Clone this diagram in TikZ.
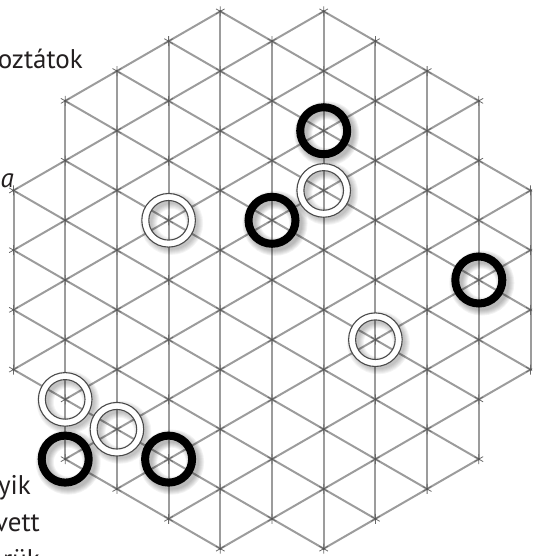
\documentclass[tikz,border=0pt]{standalone}
\usepackage{fontspec}
\setmainfont{PT Sans}
\definecolor{gridgray}{HTML}{9C9C9C}
\definecolor{dotgray}{HTML}{555555}
\definecolor{edgegray}{HTML}{4A4A4A}
\definecolor{textcol}{HTML}{231F20}
\begin{document}
\begin{tikzpicture}[x=1pt,y=-1pt,
  gridline/.style={draw=gridgray, line width=2pt},
  ptmark/.style={draw=dotgray!70!gridgray, line width=0.8pt},
  blackring/.style={draw=black, line width=8pt},
  whiteedge/.style={draw=edgegray, line width=1.1pt},
  txt/.style={anchor=base east, text=textcol, inner sep=0pt, font=\fontsize{27}{32}\selectfont}]
\useasboundingbox (0,0) rectangle (532,556);
\clip (0,0) rectangle (532,556);
% vertical lines
\foreach \i/\M in {-5/3,-4/6,-3/7,-2/8,-1/9,0/8,1/9,2/8,3/7,4/6,5/3}
  \draw[gridline] ({272+(\i)*51.7},{280-(\M)*29.85}) -- ({272+(\i)*51.7},{280+(\M)*29.85});
% diagonal (1,1)
\foreach \c/\a/\b in {0/-4/4, 2/-5/4, -2/-4/5, 4/-5/3, -4/-3/5, 6/-5/2, -6/-2/5, 8/-5/1, -8/-1/5, 10/-4/-1, -10/1/4}
  \draw[gridline] ({272+(\a)*51.7},{280+((\a)+(\c))*29.85}) -- ({272+(\b)*51.7},{280+((\b)+(\c))*29.85});
% diagonal (1,-1)
\foreach \d/\a/\b in {0/-4/4, 2/-4/5, -2/-5/4, 4/-3/5, -4/-5/3, 6/-2/5, -6/-5/2, 8/-1/5, -8/-5/1, 10/1/4, -10/-4/-1}
  \draw[gridline] ({272+(\a)*51.7},{280+((\d)-(\a))*29.85}) -- ({272+(\b)*51.7},{280+((\d)-(\b))*29.85});
% point marks
\foreach \i/\M in {-5/3,-4/6,-3/7,-2/8,-1/9,0/8,1/9,2/8,3/7,4/6,5/3}
  \foreach \k in {0,...,\M} {
    \pgfmathsetmacro\m{-(\M)+2*\k}
    \coordinate (q) at ({272+(\i)*51.7},{280+\m*29.85});
    \draw[ptmark] (q) +(0,-5) -- +(0,5) (q) +(-4.33,-2.5) -- +(4.33,2.5) (q) +(-4.33,2.5) -- +(4.33,-2.5);
    \fill[dotgray] (q) circle (1.3pt);
  }
% ring positions
\coordinate (b1) at ({272+1*51.7},{280-5*29.85});
\coordinate (b2) at ({272+0*51.7},{280-2*29.85});
\coordinate (b3) at ({272+4*51.7},{280+0*29.85});
\coordinate (b4) at ({272-4*51.7},{280+6*29.85});
\coordinate (b5) at ({272-2*51.7},{280+6*29.85});
\coordinate (w1) at ({272+1*51.7},{280-3*29.85});
\coordinate (w2) at ({272-2*51.7},{280-2*29.85});
\coordinate (w3) at ({272+2*51.7},{280+2*29.85});
\coordinate (w4) at ({272-4*51.7},{280+4*29.85});
\coordinate (w5) at ({272-3*51.7},{280+5*29.85});
% shadows
\foreach \n in {b1,b2,b3,b4,b5}
  \foreach \w in {0,2,...,10}
    \draw[black, opacity=0.05, line width={(8+\w)*1pt}] ([shift={(3,3)}]\n) circle (23.5pt);
\foreach \n in {w1,w2,w3,w4,w5}
  \foreach \w in {0,2,...,10}
    \draw[black, opacity=0.045, line width={(7+\w)*1pt}] ([shift={(3,3)}]\n) circle (23pt);
% white rings
\foreach \n in {w1,w2,w3,w4,w5} {
  \fill[white, even odd rule] (\n) circle (26.8pt) (\n) circle (19.8pt);
  \draw[whiteedge] (\n) circle (26.8pt) (\n) circle (19.8pt);
}
% black rings
\foreach \n in {b1,b2,b3,b4,b5}
  \draw[blackring] (\n) circle (23.5pt);
% text fragments
\node[txt] (t1) at (83,69) {oztátok};
\node[txt, font=\fontsize{27}{32}\selectfont\itshape] (t2) at (14,187) {a};
\node[txt] (t3) at (31,494) {yik};
\node[txt] (t4) at (40,531) {vett};
\node[txt] (t5) at (40,568) {rük};
\end{tikzpicture}
\end{document}
